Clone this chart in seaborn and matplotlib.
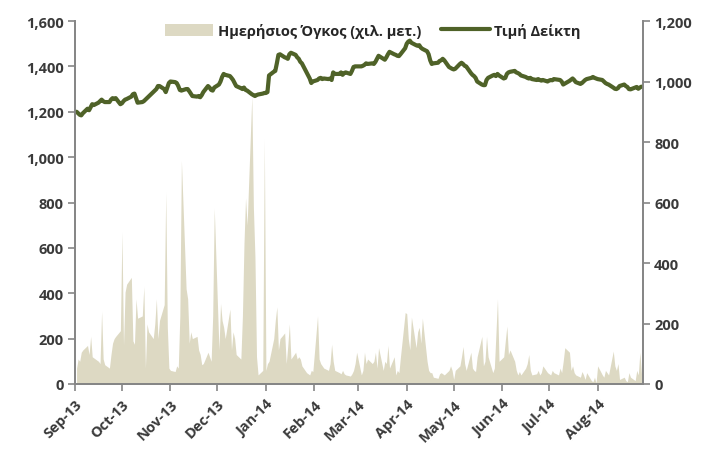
import pandas as pd
import seaborn as sns
import matplotlib.pyplot as plt
import matplotlib.dates as mdates
from matplotlib.ticker import FuncFormatter
from matplotlib.patches import Patch
from matplotlib.lines import Line2D

# daily volume (thousand shares), one value per business day, by month
vol_sep = [70, 110, 100, 140, 150, 170, 130, 210, 120, 115, 100, 90, 320, 110, 85, 70, 130, 180, 200, 210, 235]
vol_oct = [670, 170, 405, 440, 470, 190, 175, 375, 290, 300, 430, 70, 265, 230, 200, 265, 375, 200, 280, 350, 845, 250, 70]
vol_nov = [60, 55, 80, 70, 300, 985, 420, 375, 180, 230, 200, 210, 150, 130, 85, 90, 140, 120, 100, 300, 775]
vol_dec = [150, 355, 280, 250, 200, 330, 150, 230, 200, 130, 110, 300, 620, 820, 700, 1270, 780, 560, 120, 40, 60, 1080]
vol_jan = [60, 90, 100, 200, 280, 340, 150, 200, 225, 90, 170, 265, 110, 140, 110, 120, 110, 80, 50, 45, 40, 60, 55]
vol_feb = [300, 110, 90, 80, 70, 60, 90, 175, 100, 60, 50, 45, 60, 45, 40, 35, 45, 60, 90, 140]
vol_mar = [40, 60, 140, 90, 110, 90, 100, 140, 70, 160, 60, 100, 90, 170, 70, 120, 40, 60, 50, 120, 315]
vol_apr = [310, 200, 150, 295, 160, 230, 250, 180, 290, 100, 60, 50, 50, 30, 25, 45, 50, 45, 40, 60, 80, 60]
vol_may = [20, 60, 80, 120, 165, 90, 60, 140, 70, 60, 55, 120, 210, 80, 100, 210, 120, 50, 70, 220, 375, 100]
vol_jun = [120, 190, 255, 130, 150, 100, 60, 40, 55, 40, 70, 90, 130, 60, 40, 45, 60, 40, 50, 80, 50]
vol_jul = [45, 40, 60, 50, 40, 70, 50, 100, 160, 140, 60, 80, 50, 40, 30, 55, 40, 20, 50, 15, 10, 30, 5]
vol_aug = [80, 40, 30, 60, 50, 40, 145, 80, 60, 90, 20, 30, 15, 10, 50, 30, 15, 60, 40, 140, 45]

# index close, same days
idx_sep = [900, 895, 890, 888, 895, 910, 905, 915, 925, 922, 930, 935, 940, 935, 932, 932, 940, 945, 942, 945, 925]
idx_oct = [928, 935, 940, 942, 950, 958, 960, 945, 930, 932, 935, 940, 945, 950, 965, 970, 975, 985, 985, 975, 965, 980, 995]
idx_nov = [1000, 998, 995, 985, 972, 970, 975, 975, 968, 960, 952, 950, 952, 948, 955, 965, 985, 980, 972, 970, 980]
idx_dec = [990, 1000, 1015, 1025, 1022, 1018, 1012, 1005, 995, 985, 978, 975, 980, 972, 970, 958, 955, 952, 955, 957, 960, 962]
idx_jan = [962, 965, 1020, 1032, 1035, 1060, 1088, 1090, 1080, 1078, 1075, 1090, 1095, 1088, 1080, 1075, 1065, 1060, 1030, 1020, 1010, 995, 1000]
idx_feb = [1005, 1010, 1012, 1008, 1010, 1008, 1010, 1005, 1030, 1025, 1025, 1030, 1022, 1028, 1030, 1025, 1035, 1048, 1050, 1050]
idx_mar = [1050, 1052, 1055, 1060, 1058, 1060, 1058, 1065, 1075, 1085, 1075, 1072, 1080, 1090, 1098, 1090, 1088, 1085, 1084, 1090, 1110]
idx_apr = [1125, 1132, 1135, 1128, 1120, 1118, 1120, 1112, 1108, 1100, 1090, 1070, 1058, 1060, 1062, 1068, 1070, 1075, 1070, 1048, 1045, 1042]
idx_may = [1040, 1042, 1058, 1062, 1058, 1052, 1050, 1028, 1022, 1018, 1012, 1000, 990, 988, 988, 1005, 1012, 1020, 1022, 1018, 1025, 1020]
idx_jun = [1010, 1012, 1025, 1030, 1032, 1035, 1030, 1028, 1025, 1020, 1015, 1012, 1010, 1012, 1008, 1005, 1008, 1005, 1003, 1005, 1000]
idx_jul = [1003, 1005, 1004, 1008, 1006, 1005, 1000, 990, 993, 1002, 1006, 1010, 1005, 998, 992, 995, 1000, 1005, 1008, 1012, 1015, 1012, 1010]
idx_aug = [1008, 1005, 1000, 995, 992, 990, 980, 976, 975, 978, 985, 990, 985, 982, 975, 974, 980, 982, 976, 980, 983]

volume = (vol_sep + vol_oct + vol_nov + vol_dec + vol_jan + vol_feb
          + vol_mar + vol_apr + vol_may + vol_jun + vol_jul + vol_aug)
index = (idx_sep + idx_oct + idx_nov + idx_dec + idx_jan + idx_feb
         + idx_mar + idx_apr + idx_may + idx_jun + idx_jul + idx_aug)
dates = pd.bdate_range('2013-09-02', '2014-08-29')

df = pd.DataFrame({'date': dates, 'volume': volume, 'index': index})

sns.set_style('white')
plt.rcParams['font.family'] = ['Open Sans', 'DejaVu Sans']
plt.rcParams['font.weight'] = 'bold'

tick_col = '#3a3a3a'
spine_col = '#868686'
area_col = '#ddd9c3'
line_col = '#4f6228'
fs = 10.5

fig = plt.figure(figsize=(7.1, 4.52), dpi=100)
ax = fig.add_axes([75 / 710, 1 - 385 / 452, 568 / 710, 363 / 452])

ax.fill_between(df['date'], df['volume'], color=area_col, lw=0)
ax.set_ylim(0, 1600)
ax.set_yticks(range(0, 1601, 200))
ax.yaxis.set_major_formatter(FuncFormatter(lambda v, p: f'{int(v):,}'))
ax.set_xlim(pd.Timestamp('2013-09-01'), pd.Timestamp('2014-08-30'))
ax.xaxis.set_major_locator(mdates.MonthLocator())
ax.xaxis.set_major_formatter(mdates.DateFormatter('%b-%y'))
ax.set_xlabel('')
ax.set_ylabel('')

ax2 = ax.twinx()
sns.lineplot(data=df, x='date', y='index', ax=ax2, color=line_col, lw=3.0)
ax2.set_ylim(0, 1200)
ax2.set_yticks(range(0, 1201, 200))
ax2.yaxis.set_major_formatter(FuncFormatter(lambda v, p: f'{int(v):,}'))
ax2.set_xlabel('')
ax2.set_ylabel('')

for a in (ax, ax2):
    a.spines['top'].set_visible(False)
    for s in ('left', 'right', 'bottom'):
        a.spines[s].set_color(spine_col)
        a.spines[s].set_linewidth(1.3)
    a.tick_params(axis='both', colors=spine_col, length=5, width=1.2,
                  labelsize=fs, labelcolor=tick_col)

ax.tick_params(axis='y', left=True, pad=3)
ax2.tick_params(axis='y', right=True, pad=3)
ax.tick_params(axis='x', bottom=True, pad=4)
for lab in ax.get_xticklabels():
    lab.set_rotation(45)
    lab.set_ha('right')
    lab.set_rotation_mode('anchor')
for lab in ax.get_xticklabels() + ax.get_yticklabels() + ax2.get_yticklabels():
    lab.set_fontweight('bold')

handles = [Patch(facecolor=area_col, edgecolor='none'),
           Line2D([0], [0], color=line_col, lw=3.0)]
fig.legend(handles, ['Ημερήσιος Όγκος (χιλ. μετ.)', 'Τιμή Δείκτη'],
           loc='center', bbox_to_anchor=(0.525, 0.931), ncol=2, frameon=False,
           prop={'size': fs, 'weight': 'bold'}, handlelength=3.3,
           handleheight=0.9, columnspacing=1.4, handletextpad=0.3)

fig.savefig('out.png', dpi=100)
